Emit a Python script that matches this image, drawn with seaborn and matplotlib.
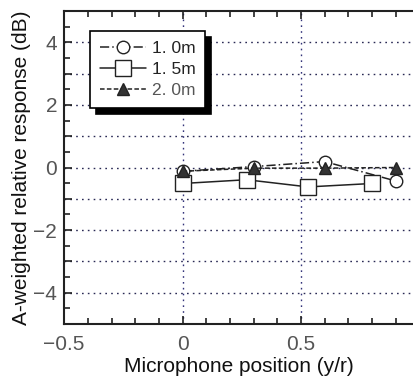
import numpy as np
import pandas as pd
import seaborn as sns
import matplotlib
matplotlib.use("Agg")
import matplotlib.pyplot as plt
from matplotlib.ticker import MultipleLocator, FuncFormatter

# Dados
x_10 = [0.0, 0.30, 0.60, 0.90]
y_10 = [-0.12, 0.03, 0.19, -0.43]
x_15 = [0.0, 0.27, 0.53, 0.80]
y_15 = [-0.51, -0.39, -0.62, -0.51]
x_20 = [0.0, 0.30, 0.60, 0.90]
y_20 = [-0.12, -0.02, -0.02, 0.0]
rotulos = ["1. 0m", "1. 5m", "2. 0m"]

df = pd.DataFrame({
    "x": x_10 + x_15 + x_20,
    "y": y_10 + y_15 + y_20,
    "serie": [rotulos[0]] * 4 + [rotulos[1]] * 4 + [rotulos[2]] * 4,
})

sns.set_style("white")
plt.rcParams['font.family'] = ['Liberation Sans', 'DejaVu Sans']

fig = plt.figure(figsize=(4.14, 3.79), dpi=100)
ax = fig.add_axes([0.155, 0.145, 0.845, 0.826])

estilos = {
    rotulos[0]: dict(marker='o', linestyle=(0, (6, 2, 1, 2)), mfc='white', ms=9),
    rotulos[1]: dict(marker='s', linestyle='-', mfc='white', ms=11),
    rotulos[2]: dict(marker='^', linestyle=(0, (3, 1.5)), mfc='#333333', ms=8),
}

for s in rotulos:
    d = df[df["serie"] == s]
    sns.lineplot(data=d, x="x", y="y", ax=ax, color='#222222', lw=1.1,
                 mec='#222222', mew=1.0, label=s, **estilos[s])

ax.set_xlim(-0.5, 0.977)
ax.set_ylim(-5, 5)

ax.xaxis.set_major_locator(MultipleLocator(0.5))
ax.xaxis.set_minor_locator(MultipleLocator(0.1))
ax.yaxis.set_major_locator(MultipleLocator(1))
ax.yaxis.set_minor_locator(MultipleLocator(0.5))
ax.xaxis.set_major_formatter(FuncFormatter(lambda v, p: "0" if abs(v) < 1e-9 else f"{v:g}".replace("-", "\u2212")))
ax.yaxis.set_major_formatter(FuncFormatter(lambda v, p: (f"{int(round(v))}".replace("-", "\u2212") if round(v) % 2 == 0 else "")))

ax.tick_params(which='both', direction='in', top=True, bottom=True, left=True, right=False,
               colors='#222222', labelcolor='#555555', labelsize=15)
ax.tick_params(which='major', length=6, width=1.2)
ax.tick_params(which='minor', length=4, width=1.2)
ax.tick_params(axis='x', pad=8)
ax.tick_params(axis='y', pad=5)

# grade
for yy in range(-4, 5):
    ax.axhline(yy, color='#2a2a55', lw=1.0, ls=(0, (1.2, 3)), zorder=0.5)
for xx in [0.0, 0.5]:
    ax.axvline(xx, color='#33337a', lw=1.0, ls=(0, (1.2, 3)), zorder=0.5)

for lado in ['left', 'bottom', 'top']:
    ax.spines[lado].set_color('#222222')
    ax.spines[lado].set_linewidth(1.5)
ax.spines['right'].set_visible(False)

ax.set_xlabel("Microphone position (y/r)", fontsize=15, color='#111111', labelpad=2)
ax.set_ylabel("A-weighted relative response (dB)", fontsize=15, color='#111111', labelpad=2)

leg = ax.legend(loc='upper left', bbox_to_anchor=(0.074, 0.935), borderaxespad=0,
                frameon=True, fancybox=False,
                shadow={'color': 'black', 'alpha': 1.0, 'ox': 4, 'oy': -4},
                fontsize=12.5, handlelength=2.7, handletextpad=0.3, labelspacing=0.35,
                borderpad=0.55, edgecolor='black')
leg.get_frame().set_linewidth(1.2)
for t, c in zip(leg.get_texts(), ['#222222', '#222222', '#555555']):
    t.set_color(c)

fig.savefig("out.png", dpi=100)
